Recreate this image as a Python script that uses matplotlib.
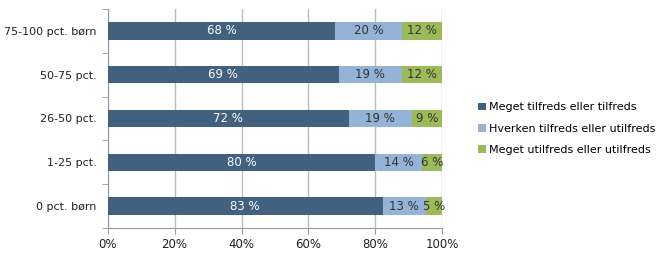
import matplotlib.pyplot as plt
import numpy as np

categories = ['0 pct. børn', '1-25 pct.', '26-50 pct.', '50-75 pct.', '75-100 pct. børn']
tilfreds = [83, 80, 72, 69, 68]
hverken = [13, 14, 19, 19, 20]
utilfreds = [5, 6, 9, 12, 12]
series_names = ['Meget tilfreds eller tilfreds',
                'Hverken tilfreds eller utilfreds',
                'Meget utilfreds eller utilfreds']
colors = ['#41617f', '#95b3d7', '#9bbb59']
text_colors = ['white', '#333333', '#333333']

fig = plt.figure(figsize=(6.69, 2.57), dpi=100)
ax = fig.add_axes([0.161, 0.113, 0.5, 0.852])

data = np.array([tilfreds, hverken, utilfreds], dtype=float)
share = data / data.sum(axis=0) * 100
y = np.arange(len(categories))
left = np.zeros(len(categories))
for i in range(3):
    ax.barh(y, share[i], left=left, height=0.4, color=colors[i],
            label=series_names[i], zorder=3)
    for j in range(len(categories)):
        ax.text(left[j] + share[i][j] / 2, y[j], f'{int(data[i][j])} %',
                ha='center', va='center', color=text_colors[i], fontsize=8.5, zorder=4)
    left += share[i]

ax.set_xlim(0, 100)
ax.set_ylim(-0.5, len(categories) - 0.5)
ax.set_xticks(np.arange(0, 101, 20))
ax.set_xticklabels([f'{v}%' for v in range(0, 101, 20)], fontsize=8.5, color='#222222')
ax.set_yticks(y)
ax.set_yticklabels(categories, fontsize=8, color='#222222')
ax.set_yticks(np.arange(-0.5, len(categories), 1), minor=True)
ax.tick_params(axis='y', which='major', length=0, pad=8)
ax.tick_params(axis='y', which='minor', length=4, color='#999999')
ax.tick_params(axis='x', length=4, color='#999999')
ax.grid(axis='x', color='#bbbbbb', linewidth=1, zorder=0)
for s in ['top', 'right']:
    ax.spines[s].set_visible(False)
for s in ['left', 'bottom']:
    ax.spines[s].set_color('#999999')

handles, labels = ax.get_legend_handles_labels()
fig.legend(handles, labels, loc='center left', bbox_to_anchor=(0.70, 0.50),
           frameon=False, fontsize=8, handlelength=0.7, handleheight=0.7,
           handletextpad=0.3, labelspacing=1.0)

fig.savefig('out.png', dpi=100)
